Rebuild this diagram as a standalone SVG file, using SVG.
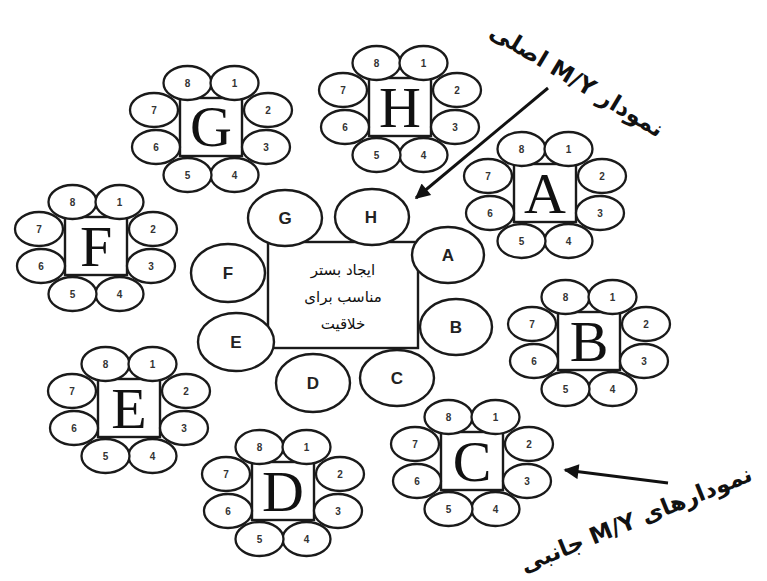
<svg xmlns="http://www.w3.org/2000/svg" width="767" height="581" viewBox="0 0 767 581">
<style>
.box{fill:#fff;stroke:#1a1a1a;stroke-width:2.4}
.pet{fill:#fff;stroke:#1a1a1a;stroke-width:2.3}
.num{font-family:"Liberation Sans",Arial,sans-serif;font-size:10px;font-weight:bold;fill:#333;text-anchor:middle}
.big{font-family:"Liberation Serif","Times New Roman",serif;font-size:58px;fill:#111;text-anchor:middle}
.ring{fill:#fff;stroke:#1a1a1a;stroke-width:2.4}
.lbl{font-family:"Liberation Sans",Arial,sans-serif;font-size:17px;font-weight:bold;fill:#222;text-anchor:middle}
.fa{font-family:"DejaVu Sans","Noto Sans",sans-serif;fill:#111;text-anchor:middle;direction:rtl;unicode-bidi:embed}
.arr{stroke:#111;stroke-width:3;fill:none}
</style>
<defs>
<marker id="ah" viewBox="0 0 10 10" refX="9" refY="5" markerWidth="6" markerHeight="5" orient="auto" markerUnits="strokeWidth">
<path d="M0,0 L10,5 L0,10 Z" fill="#111"/>
</marker>
<g id="flower">
<rect class="box" x="-31" y="-31" width="62" height="58"/>
<ellipse class="pet" cx="-23.5" cy="-46" rx="24" ry="17"/>
<ellipse class="pet" cx="23.5" cy="-46" rx="24" ry="17"/>
<ellipse class="pet" cx="57" cy="-19" rx="24" ry="17"/>
<ellipse class="pet" cx="55" cy="18" rx="24" ry="17"/>
<ellipse class="pet" cx="23.5" cy="46" rx="24" ry="17"/>
<ellipse class="pet" cx="-23.5" cy="46" rx="24" ry="17"/>
<ellipse class="pet" cx="-55" cy="18" rx="24" ry="17"/>
<ellipse class="pet" cx="-57" cy="-19" rx="24" ry="17"/>
<text class="num" x="-23.5" y="-42">8</text>
<text class="num" x="23.5" y="-42">1</text>
<text class="num" x="57" y="-15">2</text>
<text class="num" x="55" y="22">3</text>
<text class="num" x="23.5" y="50">4</text>
<text class="num" x="-23.5" y="50">5</text>
<text class="num" x="-55" y="22">6</text>
<text class="num" x="-57" y="-15">7</text>
</g>
</defs>
<rect width="767" height="581" fill="#fff"/>

<g id="cluster-G" transform="translate(211,129)"><use href="#flower"/><text class="big" x="0" y="17">G</text></g>
<g id="cluster-H" transform="translate(400,109)"><use href="#flower"/><text class="big" x="0" y="18">H</text></g>
<g id="cluster-A" transform="translate(545,195)"><use href="#flower"/><text class="big" x="0" y="18">A</text></g>
<g id="cluster-B" transform="translate(589,343)"><use href="#flower"/><text class="big" x="0" y="18">B</text></g>
<g id="cluster-C" transform="translate(472,463)"><use href="#flower"/><text class="big" x="0" y="18">C</text></g>
<g id="cluster-D" transform="translate(283,493)"><use href="#flower"/><text class="big" x="0" y="18">D</text></g>
<g id="cluster-E" transform="translate(129,410)"><use href="#flower"/><text class="big" x="0" y="18">E</text></g>
<g id="cluster-F" transform="translate(96,248)"><use href="#flower"/><text class="big" x="0" y="18">F</text></g>

<g id="center">
<rect class="box" x="268" y="242" width="150" height="106"/>
<text class="fa" x="343" y="275" font-size="15">ایجاد بستر</text>
<text class="fa" x="343" y="302" font-size="15">مناسب برای</text>
<text class="fa" x="343" y="329" font-size="15">خلاقیت</text>
</g>

<g id="ring-G"><ellipse class="ring" cx="285" cy="218" rx="37" ry="28"/><text class="lbl" x="285" y="224">G</text></g>
<g id="ring-H"><ellipse class="ring" cx="372" cy="217" rx="37" ry="28"/><text class="lbl" x="371" y="223">H</text></g>
<g id="ring-A"><ellipse class="ring" cx="448" cy="255" rx="36" ry="28"/><text class="lbl" x="448" y="261">A</text></g>
<g id="ring-B"><ellipse class="ring" cx="456" cy="327" rx="36" ry="28"/><text class="lbl" x="456" y="333">B</text></g>
<g id="ring-C"><ellipse class="ring" cx="397" cy="378" rx="37" ry="28"/><text class="lbl" x="397" y="384">C</text></g>
<g id="ring-D"><ellipse class="ring" cx="313" cy="383" rx="37" ry="29"/><text class="lbl" x="313" y="389">D</text></g>
<g id="ring-E"><ellipse class="ring" cx="236" cy="342" rx="38" ry="29"/><text class="lbl" x="236" y="348">E</text></g>
<g id="ring-F"><ellipse class="ring" cx="228" cy="273" rx="37" ry="29"/><text class="lbl" x="228" y="279">F</text></g>

<g id="connectors">
<line class="arr" x1="548" y1="88" x2="416" y2="198" marker-end="url(#ah)"/>
<line class="arr" x1="668" y1="483" x2="565" y2="470" marker-end="url(#ah)"/>
</g>

<g id="labels">
<text class="fa" font-size="23" font-weight="bold" transform="translate(577,80) rotate(31)" y="8" direction="rtl">نمودار M/Y اصلی</text>
<text class="fa" font-size="23" font-weight="bold" transform="translate(636,519) rotate(-22)" y="8" direction="rtl">نمودارهای M/Y جانبی</text>
</g>
</svg>
